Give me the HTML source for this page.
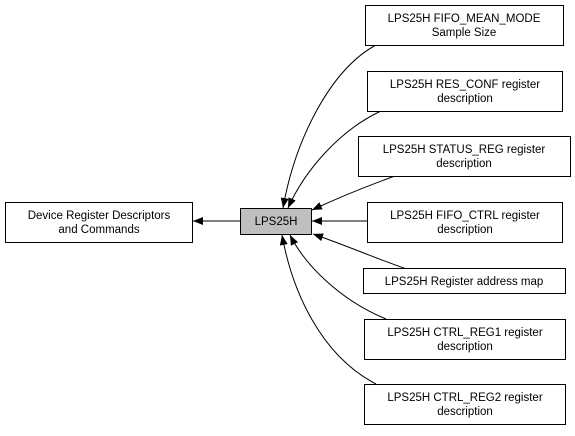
<!DOCTYPE html>
<html><head><style>html,body{margin:0;padding:0;background:#fff}</style></head>
<body>
<svg width="575" height="431" viewBox="0 0 575 431" xmlns="http://www.w3.org/2000/svg" font-family="Liberation Sans, sans-serif" font-size="11.5">
<defs><marker id="a" markerWidth="10" markerHeight="8" refX="10" refY="4" orient="auto" markerUnits="userSpaceOnUse"><path d="M0,0 L10,4 L0,8 z" fill="#000"/></marker></defs>
<g fill="none" stroke="#000" stroke-width="1">
<path d="M376,45 C330,70 295,140 283,208" marker-end="url(#a)"/>
<path d="M381,111 C340,130 305,170 288,208" marker-end="url(#a)"/>
<path d="M395,176 C370,185 340,197 312,210" marker-end="url(#a)"/>
<path d="M367,221 L312,221" marker-end="url(#a)"/>
<path d="M404,268 C380,260 345,245 313,234" marker-end="url(#a)"/>
<path d="M386,319 C340,300 305,265 290,235" marker-end="url(#a)"/>
<path d="M376,384 C320,355 292,290 282,235" marker-end="url(#a)"/>
<path d="M240,221 L193,221" marker-end="url(#a)"/>
</g>
<g stroke="#000" stroke-width="1">
<rect x="5.5" y="202.5" width="187" height="40" fill="#fff"/>
<rect x="240.5" y="208.5" width="71" height="26" fill="#bfbfbf"/>
<rect x="365.5" y="5.5" width="198" height="40" fill="#fff"/>
<rect x="367.5" y="71.5" width="195" height="40" fill="#fff"/>
<rect x="358.5" y="136.5" width="212" height="40" fill="#fff"/>
<rect x="367.5" y="202.5" width="195" height="40" fill="#fff"/>
<rect x="363.5" y="268.5" width="202" height="25" fill="#fff"/>
<rect x="364.5" y="319.5" width="201" height="40" fill="#fff"/>
<rect x="364.5" y="384.5" width="201" height="40" fill="#fff"/>
</g>
<g text-anchor="middle" fill="#000">
<text x="99" y="219">Device Register Descriptors</text><text x="99" y="233">and Commands</text>
<text x="276" y="225">LPS25H</text>
<text x="464" y="22">LPS25H FIFO_MEAN_MODE</text><text x="464" y="36">Sample Size</text>
<text x="465" y="88">LPS25H RES_CONF register</text><text x="465" y="102">description</text>
<text x="464" y="153">LPS25H STATUS_REG register</text><text x="464" y="167">description</text>
<text x="465" y="219">LPS25H FIFO_CTRL register</text><text x="465" y="233">description</text>
<text x="464" y="285">LPS25H Register address map</text>
<text x="465" y="336">LPS25H CTRL_REG1 register</text><text x="465" y="350">description</text>
<text x="465" y="401">LPS25H CTRL_REG2 register</text><text x="465" y="415">description</text>
</g>
</svg>
</body></html>
